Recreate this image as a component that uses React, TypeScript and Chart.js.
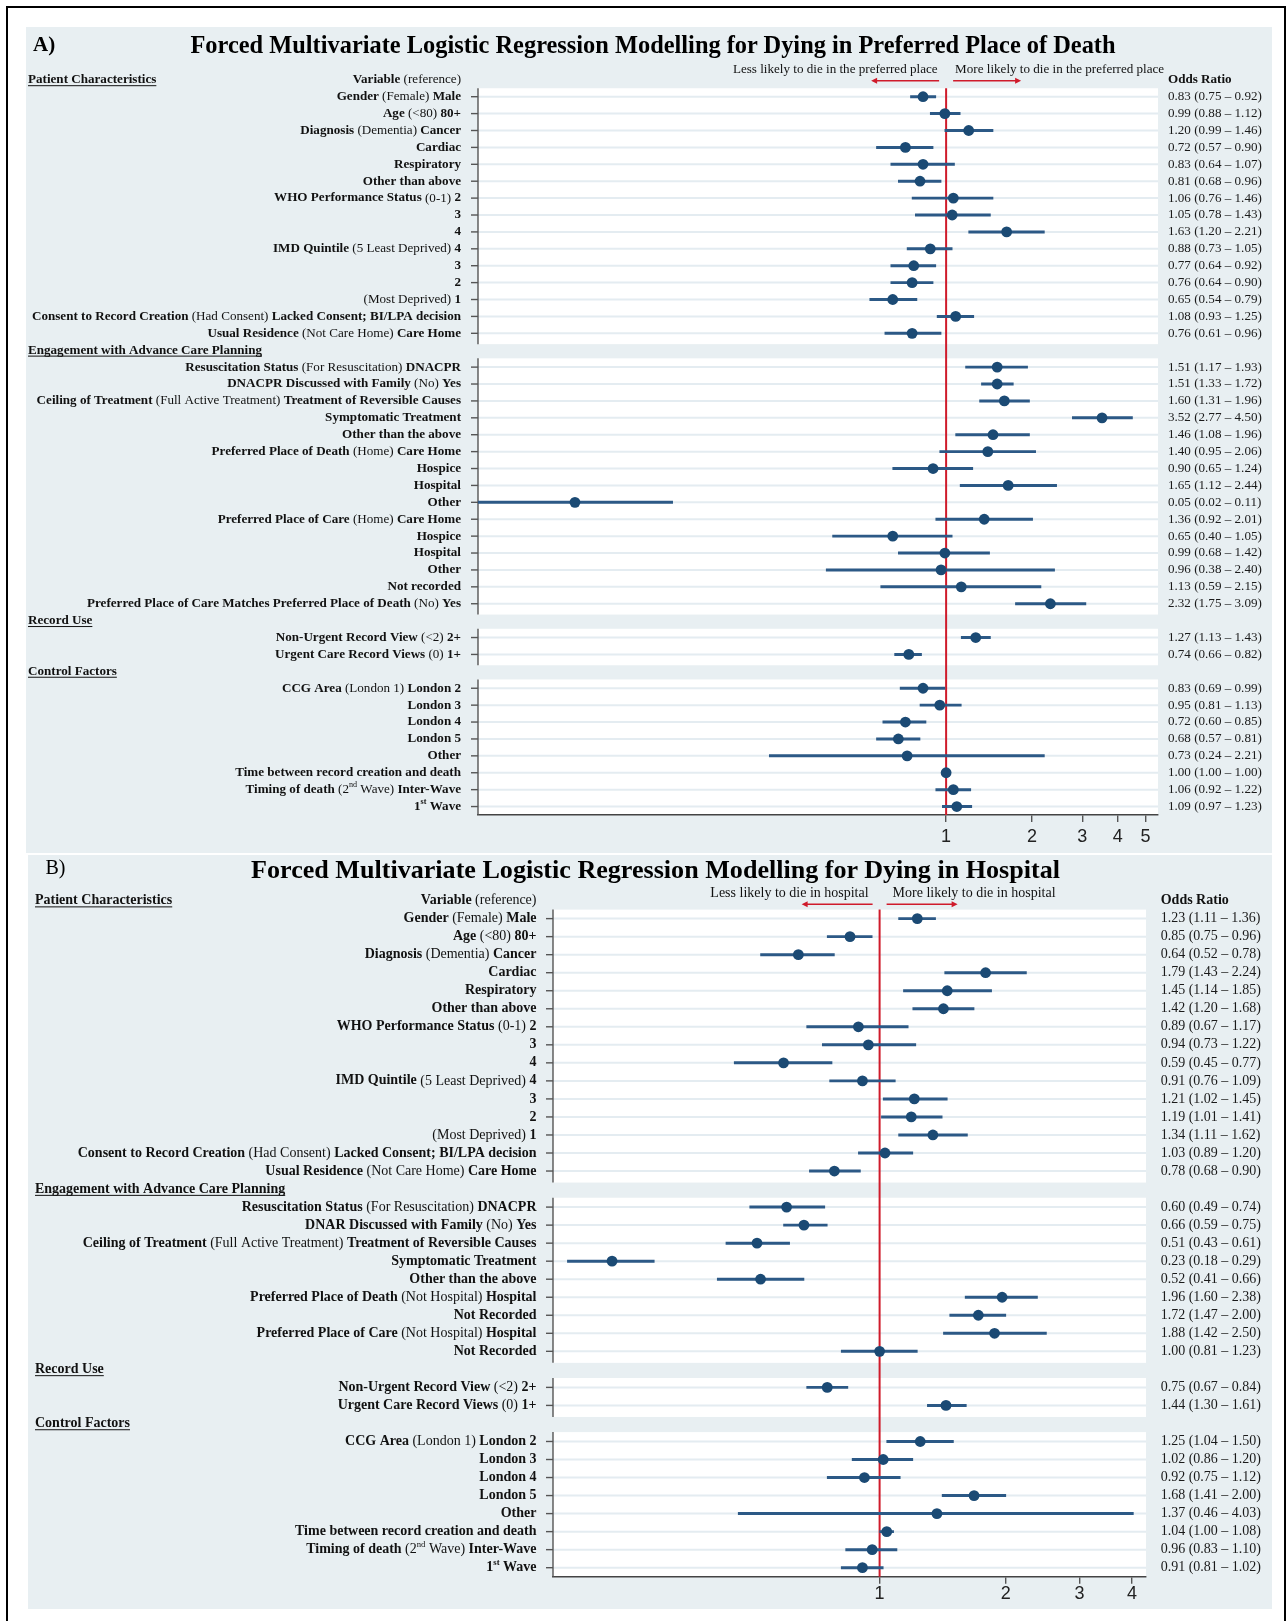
import React, { useEffect, useRef } from 'react';
import { Chart, registerables } from 'chart.js';
Chart.register(...registerables);

const SERIF = "'Liberation Serif', 'Times New Roman', Times, serif";
const SANS = "'Liberation Sans', Arial, Helvetica, sans-serif";
const BG = '#e8eff2';
const GRID = '#e4ecf1';
const RED = '#cf1b2b';
const NAVY = '#1b4a74';
const CI = '#2c5986';
const AXIS = '#555555';
const INK = '#111111';

// ---------------- Panel A data ----------------
const aTitle = 'Forced Multivariate Logistic Regression Modelling for Dying in Preferred Place of Death';
const aArrowText = ['Less likely to die in the preferred place', 'More likely to die in the preferred place'];
const aTicks = [1, 2, 3, 4, 5];
const aLabels = [
  '**Gender** (Female) **Male**',
  '**Age** (<80) **80+**',
  '**Diagnosis** (Dementia) **Cancer**',
  '**Cardiac**',
  '**Respiratory**',
  '**Other than above**',
  '**WHO Performance Status** (0-1) **2**',
  '**3**',
  '**4**',
  '**IMD Quintile** (5 Least Deprived) **4**',
  '**3**',
  '**2**',
  '(Most Deprived) **1**',
  '**Consent to Record Creation** (Had Consent) **Lacked Consent; BI/LPA decision**',
  '**Usual Residence** (Not Care Home) **Care Home**',
  '#Engagement with Advance Care Planning',
  '**Resuscitation Status** (For Resuscitation) **DNACPR**',
  '**DNACPR Discussed with Family** (No) **Yes**',
  '**Ceiling of Treatment** (Full Active Treatment) **Treatment of Reversible Causes**',
  '**Symptomatic Treatment**',
  '**Other than the above**',
  '**Preferred Place of Death** (Home) **Care Home**',
  '**Hospice**',
  '**Hospital**',
  '**Other**',
  '**Preferred Place of Care** (Home) **Care Home**',
  '**Hospice**',
  '**Hospital**',
  '**Other**',
  '**Not recorded**',
  '**Preferred Place of Care Matches Preferred Place of Death** (No) **Yes**',
  '#Record Use',
  '**Non-Urgent Record View** (<2) **2+**',
  '**Urgent Care Record Views** (0) **1+**',
  '#Control Factors',
  '**CCG Area** (London 1) **London 2**',
  '**London 3**',
  '**London 4**',
  '**London 5**',
  '**Other**',
  '**Time between record creation and death**',
  '**Timing of death** (2{nd} Wave) **Inter-Wave**',
  '**1{st} Wave**',
];
const aOR = [0.83, 0.99, 1.20, 0.72, 0.83, 0.81, 1.06, 1.05, 1.63, 0.88, 0.77, 0.76, 0.65, 1.08, 0.76, null,
  1.51, 1.51, 1.60, 3.52, 1.46, 1.40, 0.90, 1.65, 0.05, 1.36, 0.65, 0.99, 0.96, 1.13, 2.32, null,
  1.27, 0.74, null, 0.83, 0.95, 0.72, 0.68, 0.73, 1.00, 1.06, 1.09];
const aLo = [0.75, 0.88, 0.99, 0.57, 0.64, 0.68, 0.76, 0.78, 1.20, 0.73, 0.64, 0.64, 0.54, 0.93, 0.61, null,
  1.17, 1.33, 1.31, 2.77, 1.08, 0.95, 0.65, 1.12, 0.02, 0.92, 0.40, 0.68, 0.38, 0.59, 1.75, null,
  1.13, 0.66, null, 0.69, 0.81, 0.60, 0.57, 0.24, 1.00, 0.92, 0.97];
const aHi = [0.92, 1.12, 1.46, 0.90, 1.07, 0.96, 1.46, 1.43, 2.21, 1.05, 0.92, 0.90, 0.79, 1.25, 0.96, null,
  1.93, 1.72, 1.96, 4.50, 1.96, 2.06, 1.24, 2.44, 0.11, 2.01, 1.05, 1.42, 2.40, 2.15, 3.09, null,
  1.43, 0.82, null, 0.99, 1.13, 0.85, 0.81, 2.21, 1.00, 1.22, 1.23];

// ---------------- Panel B data ----------------
const bTitle = 'Forced Multivariate Logistic Regression Modelling for Dying in Hospital';
const bArrowText = ['Less likely to die in hospital', 'More likely to die in hospital'];
const bTicks = [1, 2, 3, 4];
const bLabels = [
  '**Gender** (Female) **Male**',
  '**Age** (<80) **80+**',
  '**Diagnosis** (Dementia) **Cancer**',
  '**Cardiac**',
  '**Respiratory**',
  '**Other than above**',
  '**WHO Performance Status** (0-1) **2**',
  '**3**',
  '**4**',
  '**IMD Quintile** (5 Least Deprived) **4**',
  '**3**',
  '**2**',
  '(Most Deprived) **1**',
  '**Consent to Record Creation** (Had Consent) **Lacked Consent; BI/LPA decision**',
  '**Usual Residence** (Not Care Home) **Care Home**',
  '#Engagement with Advance Care Planning',
  '**Resuscitation Status** (For Resuscitation) **DNACPR**',
  '**DNAR Discussed with Family** (No) **Yes**',
  '**Ceiling of Treatment** (Full Active Treatment) **Treatment of Reversible Causes**',
  '**Symptomatic Treatment**',
  '**Other than the above**',
  '**Preferred Place of Death** (Not Hospital) **Hospital**',
  '**Not Recorded**',
  '**Preferred Place of Care** (Not Hospital) **Hospital**',
  '**Not Recorded**',
  '#Record Use',
  '**Non-Urgent Record View** (<2) **2+**',
  '**Urgent Care Record Views** (0) **1+**',
  '#Control Factors',
  '**CCG Area** (London 1) **London 2**',
  '**London 3**',
  '**London 4**',
  '**London 5**',
  '**Other**',
  '**Time between record creation and death**',
  '**Timing of death** (2{nd} Wave) **Inter-Wave**',
  '**1{st} Wave**',
];
const bOR = [1.23, 0.85, 0.64, 1.79, 1.45, 1.42, 0.89, 0.94, 0.59, 0.91, 1.21, 1.19, 1.34, 1.03, 0.78, null,
  0.60, 0.66, 0.51, 0.23, 0.52, 1.96, 1.72, 1.88, 1.00, null,
  0.75, 1.44, null, 1.25, 1.02, 0.92, 1.68, 1.37, 1.04, 0.96, 0.91];
const bLo = [1.11, 0.75, 0.52, 1.43, 1.14, 1.20, 0.67, 0.73, 0.45, 0.76, 1.02, 1.01, 1.11, 0.89, 0.68, null,
  0.49, 0.59, 0.43, 0.18, 0.41, 1.60, 1.47, 1.42, 0.81, null,
  0.67, 1.30, null, 1.04, 0.86, 0.75, 1.41, 0.46, 1.00, 0.83, 0.81];
const bHi = [1.36, 0.96, 0.78, 2.24, 1.85, 1.68, 1.17, 1.22, 0.77, 1.09, 1.45, 1.41, 1.62, 1.20, 0.90, null,
  0.74, 0.75, 0.61, 0.29, 0.66, 2.38, 2.00, 2.50, 1.23, null,
  0.84, 1.61, null, 1.50, 1.20, 1.12, 2.00, 4.03, 1.08, 1.10, 1.02];

const firstHeader = 'Patient Characteristics';
const varHeader = '**Variable** (reference)';
const orHeader = 'Odds Ratio';

// ---------------- layout (styles only) ----------------
type Cfg = {
  left: number; top: number; width: number; height: number;
  pad: { left: number; right: number; top: number; bottom: number };
  xMin: number; xMax: number;
  fontSize: number; labelGap: number; orGap: number; headerX: number;
  arrowDy: number; arrowTextDy: number; lessGap: number; moreGap: number;
  arrowIn: number; arrowOut: number; tickPad: number;
};

const cfgA: Cfg = {
  left: 26, top: 27, width: 1246, height: 826,
  pad: { left: 452, right: 114, top: 61.25, bottom: 8 },
  xMin: 0.02286, xMax: 5.53,
  fontSize: 13.1, labelGap: 17, orGap: 10, headerX: 2,
  arrowDy: -7.5, arrowTextDy: -18.3, lessGap: 8.5, moreGap: 9,
  arrowIn: 7, arrowOut: 75, tickPad: 4,
};
const cfgB: Cfg = {
  left: 28, top: 855, width: 1244, height: 754,
  pad: { left: 525, right: 126, top: 54.6, bottom: 2.3 },
  xMin: 0.1663, xMax: 4.32,
  fontSize: 14, labelGap: 16.5, orGap: 14.7, headerX: 7,
  arrowDy: -5.3, arrowTextDy: -16.6, lessGap: 11, moreGap: 13,
  arrowIn: 7, arrowOut: 78, tickPad: 0,
};

type Seg = { t: string; b: boolean; sup: boolean };
function parseRich(s: string): Seg[] {
  const segs: Seg[] = [];
  let b = false, sup = false, cur = '';
  const push = () => { if (cur) segs.push({ t: cur, b, sup }); cur = ''; };
  for (let i = 0; i < s.length; i++) {
    if (s[i] === '*' && s[i + 1] === '*') { push(); b = !b; i++; }
    else if (s[i] === '{') { push(); sup = true; }
    else if (s[i] === '}') { push(); sup = false; }
    else cur += s[i];
  }
  push();
  return segs;
}

function drawRich(ctx: CanvasRenderingContext2D, text: string, x: number, y: number, size: number,
  align: 'left' | 'right', color: string) {
  const segs = parseRich(text);
  const fontOf = (s: Seg) => `${s.b ? 'bold ' : ''}${s.sup ? size * 0.62 : size}px ${SERIF}`;
  const widths = segs.map((s) => { ctx.font = fontOf(s); return ctx.measureText(s.t).width; });
  const total = widths.reduce((a, c) => a + c, 0);
  let cx = align === 'right' ? x - total : x;
  const left = cx;
  ctx.textAlign = 'left';
  ctx.textBaseline = 'middle';
  ctx.fillStyle = color;
  segs.forEach((s, k) => {
    ctx.font = fontOf(s);
    ctx.fillText(s.t, cx, s.sup ? y - size * 0.33 : y);
    cx += widths[k];
  });
  return { left, width: total };
}

const isHeader = (l: string) => l.startsWith('#');
const fmt = (v: number) => v.toFixed(2);

function makePlugin(cfg: Cfg, labels: string[], or: (number | null)[], lo: (number | null)[],
  hi: (number | null)[], arrowText: string[]) {
  return {
    id: 'forest',
    beforeDraw(chart: any) {
      const { ctx, chartArea: ca, scales } = chart;
      const y = scales.y;
      const sp = y.getPixelForValue(1) - y.getPixelForValue(0);
      ctx.save();
      ctx.fillStyle = '#ffffff';
      ctx.fillRect(ca.left, ca.top, ca.right - ca.left, ca.bottom - ca.top);
      ctx.fillStyle = BG;
      labels.forEach((l, i) => {
        if (isHeader(l)) {
          const yc = y.getPixelForValue(i);
          ctx.fillRect(ca.left, yc - 0.36 * sp, ca.right - ca.left, 0.84 * sp);
        }
      });
      ctx.restore();
    },
    beforeDatasetsDraw(chart: any) {
      const { ctx, chartArea: ca, scales } = chart;
      const y = scales.y, x = scales.x;
      const sp = y.getPixelForValue(1) - y.getPixelForValue(0);
      ctx.save();
      ctx.strokeStyle = GRID;
      ctx.lineWidth = 2;
      labels.forEach((l, i) => {
        if (isHeader(l)) return;
        const yc = y.getPixelForValue(i);
        ctx.beginPath(); ctx.moveTo(ca.left, yc); ctx.lineTo(ca.right, yc); ctx.stroke();
      });
      ctx.strokeStyle = AXIS;
      ctx.lineWidth = 1.4;
      let segTop = ca.top;
      labels.forEach((l, i) => {
        const yc = y.getPixelForValue(i);
        if (isHeader(l)) {
          const segBot = yc - 0.36 * sp;
          ctx.beginPath(); ctx.moveTo(ca.left, segTop); ctx.lineTo(ca.left, segBot); ctx.stroke();
          segTop = yc + 0.48 * sp;
        } else {
          ctx.beginPath(); ctx.moveTo(ca.left - 7, yc); ctx.lineTo(ca.left, yc); ctx.stroke();
        }
      });
      ctx.beginPath(); ctx.moveTo(ca.left, segTop); ctx.lineTo(ca.left, ca.bottom); ctx.stroke();
      const x1 = x.getPixelForValue(1);
      ctx.strokeStyle = RED;
      ctx.lineWidth = 2;
      ctx.beginPath(); ctx.moveTo(x1, ca.top); ctx.lineTo(x1, ca.bottom); ctx.stroke();
      ctx.restore();
    },
    afterDraw(chart: any) {
      const { ctx, chartArea: ca, scales } = chart;
      const y = scales.y, x = scales.x;
      const sp = y.getPixelForValue(1) - y.getPixelForValue(0);
      const fs = cfg.fontSize;
      const labelX = ca.left - cfg.labelGap;
      const orX = ca.right + cfg.orGap;
      ctx.save();
      const header = (text: string, yc: number) => {
        const r = drawRich(ctx, `**${text}**`, cfg.headerX, yc, fs, 'left', INK);
        ctx.strokeStyle = INK; ctx.lineWidth = 1;
        ctx.beginPath(); ctx.moveTo(r.left, yc + fs * 0.45); ctx.lineTo(r.left + r.width, yc + fs * 0.45); ctx.stroke();
      };
      const y0 = y.getPixelForValue(0) - sp;
      header(firstHeader, y0);
      drawRich(ctx, varHeader, labelX, y0, fs, 'right', INK);
      drawRich(ctx, `**${orHeader}**`, orX, y0, fs, 'left', INK);
      labels.forEach((l, i) => {
        const yc = y.getPixelForValue(i);
        if (isHeader(l)) { header(l.slice(1), yc); return; }
        drawRich(ctx, l, labelX, yc, fs, 'right', INK);
        const v = or[i], a = lo[i], b = hi[i];
        if (v != null && a != null && b != null) {
          drawRich(ctx, `${fmt(v)} (${fmt(a)} – ${fmt(b)})`, orX, yc, fs, 'left', '#1a1a1a');
        }
      });
      const x1 = x.getPixelForValue(1);
      const ay = ca.top + cfg.arrowDy;
      ctx.strokeStyle = RED; ctx.fillStyle = RED; ctx.lineWidth = 1.5;
      const arrow = (from: number, to: number) => {
        const dir = Math.sign(to - from);
        ctx.beginPath(); ctx.moveTo(from, ay); ctx.lineTo(to - dir * 5, ay); ctx.stroke();
        ctx.beginPath(); ctx.moveTo(to, ay); ctx.lineTo(to - dir * 6, ay - 3); ctx.lineTo(to - dir * 6, ay + 3); ctx.closePath(); ctx.fill();
      };
      arrow(x1 - cfg.arrowIn, x1 - cfg.arrowOut);
      arrow(x1 + cfg.arrowIn, x1 + cfg.arrowOut);
      const ty = ca.top + cfg.arrowTextDy;
      drawRich(ctx, arrowText[0], x1 - cfg.lessGap, ty, fs, 'right', INK);
      drawRich(ctx, arrowText[1], x1 + cfg.moreGap, ty, fs, 'left', INK);
      ctx.restore();
    },
  };
}

function ForestPanel(props: {
  cfg: Cfg; labels: string[]; or: (number | null)[]; lo: (number | null)[]; hi: (number | null)[];
  ticks: number[]; arrowText: string[];
}) {
  const { cfg, labels, or, lo, hi, ticks, arrowText } = props;
  const ref = useRef<HTMLCanvasElement>(null);
  useEffect(() => {
    const canvas = ref.current;
    if (!canvas) return;
    const chart = new Chart(canvas, {
      type: 'bar',
      data: {
        labels: labels.map((_, i) => String(i)),
        datasets: [
          {
            type: 'line',
            data: or as any,
            showLine: false,
            pointRadius: 5.4,
            pointHoverRadius: 5.4,
            pointBackgroundColor: NAVY,
            pointBorderColor: NAVY,
            pointBorderWidth: 0,
            order: 0,
          } as any,
          {
            type: 'bar',
            data: labels.map((_, i) => (or[i] == null ? null : [lo[i], hi[i]])) as any,
            backgroundColor: CI,
            barThickness: 2.3,
            borderWidth: 0,
            order: 1,
          } as any,
        ],
      },
      options: {
        indexAxis: 'y',
        responsive: false,
        maintainAspectRatio: false,
        animation: false,
        events: [],
        layout: { padding: cfg.pad },
        plugins: { legend: { display: false }, tooltip: { enabled: false }, title: { display: false } },
        scales: {
          x: {
            type: 'logarithmic',
            position: 'bottom',
            min: cfg.xMin,
            max: cfg.xMax,
            afterBuildTicks: (s: any) => { s.ticks = ticks.map((v) => ({ value: v })); },
            afterFit: (s: any) => { s.height = 30; },
            ticks: {
              callback: (v: any) => String(v),
              autoSkip: false,
              maxRotation: 0,
              font: { family: SANS, size: 18, lineHeight: 1.2 },
              color: '#222222',
              padding: cfg.tickPad,
            },
            grid: { display: true, drawOnChartArea: false, drawTicks: true, tickLength: 7, color: AXIS, lineWidth: 1.4 },
            border: { display: true, color: '#444444', width: 1.5 },
          },
          y: { type: 'category', offset: true, display: false, grid: { display: false } },
        },
      } as any,
      plugins: [makePlugin(cfg, labels, or, lo, hi, arrowText) as any],
    });
    return () => chart.destroy();
  }, []);
  return (
    <div style={{ position: 'absolute', left: cfg.left, top: cfg.top, width: cfg.width, height: cfg.height, background: BG }}>
      <canvas ref={ref} width={cfg.width} height={cfg.height}
        style={{ position: 'absolute', left: 0, top: 0, width: cfg.width, height: cfg.height, display: 'block' }} />
    </div>
  );
}

export default function App() {
  useEffect(() => {
    document.body.style.margin = '0';
    document.body.style.overflow = 'hidden';
  }, []);
  const titleStyle = (cx: number, cy: number, size: number, bold: boolean): React.CSSProperties => ({
    position: 'absolute', left: cx, top: cy - size / 2, fontSize: size, lineHeight: `${size}px`,
    fontFamily: SERIF, fontWeight: bold ? 'bold' : 'normal', color: '#000', whiteSpace: 'nowrap',
    transform: 'translateX(-50%)',
  });
  const letterStyle = (lx: number, cy: number, size: number, bold: boolean): React.CSSProperties => ({
    position: 'absolute', left: lx, top: cy - size / 2, fontSize: size, lineHeight: `${size}px`,
    fontFamily: SERIF, fontWeight: bold ? 'bold' : 'normal', color: '#000', whiteSpace: 'nowrap',
  });
  return (
    <div style={{ position: 'absolute', left: 0, top: 0, width: 1287, height: 1621, overflow: 'hidden', background: '#fff' }}>
      <div style={{ position: 'absolute', left: 6, top: 6, width: 1280, height: 1700, border: '2.5px solid #000', boxSizing: 'border-box' }} />
      <ForestPanel cfg={cfgA} labels={aLabels} or={aOR} lo={aLo} hi={aHi} ticks={aTicks} arrowText={aArrowText} />
      <ForestPanel cfg={cfgB} labels={bLabels} or={bOR} lo={bLo} hi={bHi} ticks={bTicks} arrowText={bArrowText} />
      <div style={letterStyle(33, 44, 21, true)}>A)</div>
      <div style={titleStyle(653, 45, 24.4, true)}>{aTitle}</div>
      <div style={letterStyle(45.5, 867, 20, false)}>B)</div>
      <div style={titleStyle(655.5, 870, 26.1, true)}>{bTitle}</div>
    </div>
  );
}
